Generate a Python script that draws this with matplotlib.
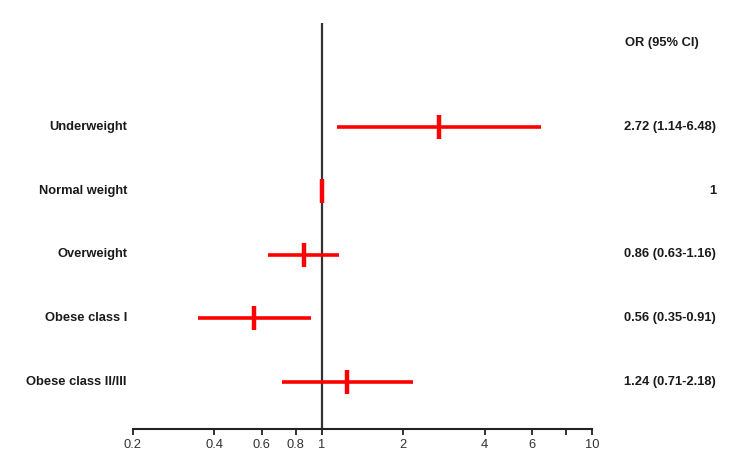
import matplotlib
matplotlib.use("Agg")
import matplotlib.pyplot as plt
import numpy as np

categories = ["Underweight", "Normal weight", "Overweight", "Obese class I", "Obese class II/III"]
or_values = [2.72, 1.0, 0.86, 0.56, 1.24]
ci_low = [1.14, 1.0, 0.63, 0.35, 0.71]
ci_high = [6.48, 1.0, 1.16, 0.91, 2.18]
or_labels = ["2.72 (1.14-6.48)", "1", "0.86 (0.63-1.16)", "0.56 (0.35-0.91)", "1.24 (0.71-2.18)"]
tick_values = [0.2, 0.4, 0.6, 0.8, 1, 2, 4, 6, 8, 10]
tick_labels = ["0.2", "0.4", "0.6", "0.8", "1", "2", "4", "6", "", "10"]
header = "OR (95% CI)"

plt.rcParams['font.family'] = ['Liberation Sans', 'DejaVu Sans']

fig = plt.figure(figsize=(7.4, 4.7), dpi=100)
ax = fig.add_axes([132.7/740, 1-429/470, (592.3-132.7)/740, 429/470])
ax.set_xscale('log')
ax.set_xlim(0.2, 10)
ax.set_ylim(0.263, 1 + 382/63.75)

n = len(categories)
ys = [n - i for i in range(n)]

ax.vlines(1, 0.263, 6.63, color='#333333', lw=1.6, zorder=1)

for y, o, lo, hi in zip(ys, or_values, ci_low, ci_high):
    if hi > lo:
        ax.plot([lo, hi], [y, y], color='#ff0000', lw=2.6, solid_capstyle='butt', zorder=2)
    ax.plot([o], [y], marker='|', color='#ff0000', markersize=17, mew=3.2, zorder=3)

fs = 9.3
for y, c, lab in zip(ys, categories, or_labels):
    fig.text(127/740, 1 - (382 - (y-1)*63.75)/470, c, ha='right', va='center',
             fontsize=fs, fontweight='bold', color='#1a1a1a')
    fig.text(716/740, 1 - (382 - (y-1)*63.75)/470, lab, ha='right', va='center',
             fontsize=fs, fontweight='bold', color='#1a1a1a')

fig.text(662/740, 1 - 43/470, header, ha='center', va='center',
         fontsize=fs, fontweight='bold', color='#1a1a1a')

for s in ['top', 'right', 'left']:
    ax.spines[s].set_visible(False)
ax.spines['bottom'].set_linewidth(1.5)
ax.spines['bottom'].set_color('#222222')
ax.set_yticks([])
ax.xaxis.set_minor_locator(matplotlib.ticker.NullLocator())
ax.set_xticks(tick_values)
ax.set_xticklabels(tick_labels)
ax.tick_params(axis='x', direction='out', length=4, width=1.3, color='#222222',
               labelsize=9.3, labelcolor='#333333', pad=3)

fig.savefig("out.png", dpi=100)
